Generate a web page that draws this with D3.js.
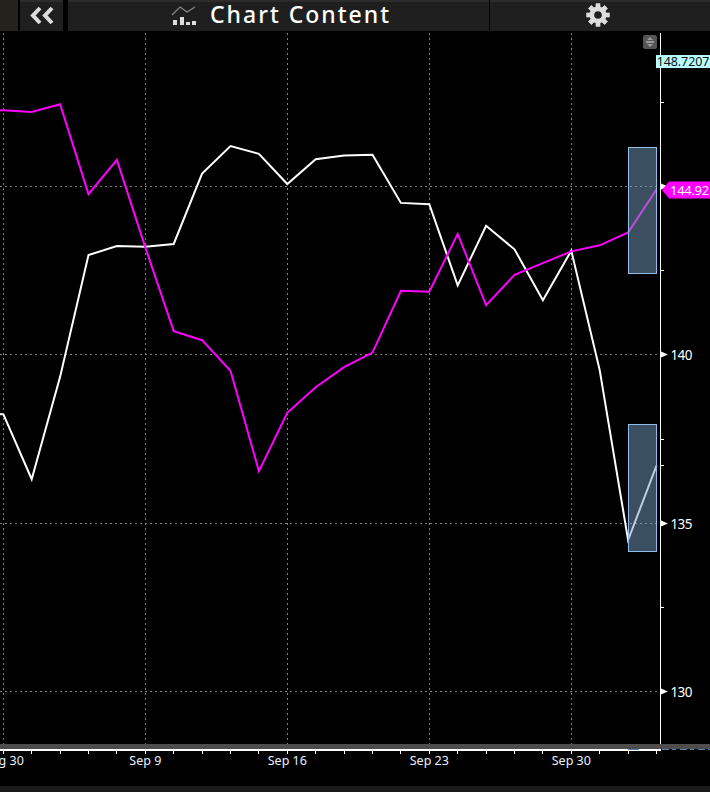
<!DOCTYPE html>
<html><head><meta charset="utf-8">
<style>html,body{margin:0;padding:0;background:#000;overflow:hidden}svg{display:block}text{font-family:"Noto Sans",sans-serif}</style>
<script src="https://cdn.jsdelivr.net/npm/d3@7/dist/d3.min.js"></script></head>
<body><script>
const dates = ["Aug 30","Sep 3","Sep 4","Sep 5","Sep 6","Sep 9","Sep 10","Sep 11","Sep 12","Sep 13","Sep 16","Sep 17","Sep 18","Sep 19","Sep 20","Sep 23","Sep 24","Sep 25","Sep 26","Sep 27","Sep 30","Oct 1","Oct 2","Oct 3"];
const magenta = [147.27,147.22,147.45,144.78,145.80,143.20,140.71,140.44,139.53,136.55,138.28,139.04,139.64,140.07,141.91,141.88,143.60,141.48,142.38,142.73,143.08,143.26,143.64,144.92];
const white = [138.24,136.31,139.35,142.97,143.24,143.22,143.30,145.39,146.21,145.98,145.08,145.82,145.93,145.95,144.52,144.48,142.07,143.84,143.14,141.63,143.10,139.55,134.50,136.71];
const xLabels = ["Aug 30","Sep 9","Sep 16","Sep 23","Sep 30"];
const yMajor = [130,135,140,145];
const yLabelled = [130,135,140];
const yMinor = [132.5,137.5,142.5,147.5];
const bands = [{from:"Oct 2",to:"Oct 3",hi:146.17,lo:142.42},{from:"Oct 2",to:"Oct 3",hi:137.93,lo:134.16}];
const lastMagenta = "144.92", topLabel = "148.7207", topValue = 148.7207, titleText = "Chart Content";

(function(){
const W=710,H=792,axisX=660,plotTop=33,plotBottom=745;
const svg=d3.select("body").append("svg").attr("width",W).attr("height",H);
const x=d3.scalePoint().domain(dates).range([3.3,656.5]);
const y=d3.scaleLinear().domain([128.41,149.569]).range([plotBottom,plotTop]);
const gy=d=>Math.floor(y(d))+.5;
const gx=d=>Math.floor(x(d))+.5;
svg.append("clipPath").attr("id","c").append("rect").attr("x",0).attr("y",plotTop).attr("width",axisX-1).attr("height",plotBottom-plotTop);

// grid
const grid=svg.append("g").attr("stroke","#808080").attr("stroke-width",1).attr("stroke-dasharray","2,3");
grid.selectAll("line.v").data(xLabels).join("line").attr("class","v").attr("x1",gx).attr("x2",gx).attr("y1",plotTop).attr("y2",plotBottom-1);
grid.selectAll("line.h").data(yMajor).join("line").attr("class","h").attr("x1",0).attr("x2",axisX).attr("y1",gy).attr("y2",gy);

// lines
const line=d3.line().x((d,i)=>x(dates[i])).y(d=>y(d));
const g=svg.append("g").attr("clip-path","url(#c)").attr("fill","none").attr("stroke-width",2).attr("stroke-linejoin","miter");
g.append("path").attr("d",line(white)).attr("stroke","#fff");
g.append("path").attr("d",line(magenta)).attr("stroke","#f0f");
// stub left of the first date
g.append("path").attr("d",d3.line()([[0,y(white[0])],[x(dates[0]),y(white[0])]])).attr("stroke","#fff");
g.append("path").attr("d",d3.line()([[0,y(magenta[0])],[x(dates[0]),y(magenta[0])]])).attr("stroke","#f0f");

// forecast bands
svg.append("g").selectAll("rect").data(bands).join("rect")
 .attr("x",d=>Math.floor(x(d.from))+.5).attr("width",d=>Math.round(x(d.to)-x(d.from)))
 .attr("y",d=>Math.floor(y(d.hi))+.5).attr("height",d=>Math.round(y(d.lo)-y(d.hi)))
 .attr("fill","rgb(120,158,194)").attr("fill-opacity",.5).attr("stroke","#8fbdea").attr("stroke-width",1);

// y axis
const yAxis=svg.append("g");
yAxis.append("line").attr("x1",axisX+.5).attr("x2",axisX+.5).attr("y1",plotTop).attr("y2",plotBottom+5).attr("stroke","#fff");
yAxis.selectAll("line.minor").data(yMinor).join("line").attr("class","minor").attr("x1",axisX).attr("x2",axisX+4).attr("y1",gy).attr("y2",gy).attr("stroke","#fff");
yAxis.selectAll("path.tri").data(yLabelled.concat([145])).join("path").attr("class","tri")
 .attr("d",d=>`M${axisX+1},${gy(d)-3}L${axisX+8},${gy(d)}L${axisX+1},${gy(d)+3}Z`).attr("fill","#fff");
yAxis.selectAll("text.yl").data(yLabelled).join("text").attr("class","yl").attr("x",axisX+10.5).attr("y",d=>gy(d)+.5).attr("dy","0.36em").attr("fill","#fff").attr("font-size",13.5).attr("letter-spacing",-.6).text(d=>d);
// end marks and labels
yAxis.append("line").attr("x1",axisX).attr("x2",axisX+4).attr("y1",gy(white[23])).attr("y2",gy(white[23])).attr("stroke","#fff");
const my=y(+lastMagenta)+.5;
yAxis.append("path").attr("d",`M662,${my}L669,${my-8.5}H710V${my+8.5}H669Z`).attr("fill","#f0f");
yAxis.append("text").attr("x",670).attr("y",my).attr("dy","0.36em").attr("fill","#fff").attr("font-size",13).attr("letter-spacing",-.3).text(lastMagenta);
const ty=y(topValue);
yAxis.append("rect").attr("x",656).attr("y",ty-6.5).attr("width",54).attr("height",13).attr("fill","#b8ffff");
yAxis.append("text").attr("x",683).attr("y",ty).attr("dy","0.36em").attr("text-anchor","middle").attr("fill","#111").attr("font-size",12.5).attr("letter-spacing",-.1).text(topLabel);

// scroll widget
const sw=svg.append("g");
sw.append("rect").attr("x",643).attr("y",35).attr("width",14).attr("height",14).attr("rx",2).attr("fill","#555");
sw.append("path").attr("d","M647,40L650,37L653,40ZM647,44L650,47L653,44Z").attr("fill","#999");
sw.append("path").attr("d","M646,41.5H654M646,42.5H654").attr("stroke","#999");

// bottom
svg.append("rect").attr("x",0).attr("y",744).attr("width",W).attr("height",5).attr("fill","#4d4d4d");
svg.append("line").attr("x1",0).attr("x2",661).attr("y1",750).attr("y2",750).attr("stroke","#fff").attr("stroke-width",2);
svg.append("line").attr("x1",628).attr("x2",639).attr("y1",749.5).attr("y2",749.5).attr("stroke","#5d7fa8").attr("stroke-width",1);
svg.append("line").attr("x1",662).attr("x2",710).attr("y1",749.5).attr("y2",749.5).attr("stroke","#5d7fa8").attr("stroke-width",1).attr("stroke-dasharray","7,3,4,4");
svg.append("g").selectAll("line").data(dates).join("line").attr("x1",gx).attr("x2",gx).attr("y1",750).attr("y2",754).attr("stroke","#fff");
svg.append("g").selectAll("text").data(xLabels).join("text").attr("x",d=>x(d)).attr("y",760).attr("dy","0.36em").attr("text-anchor","middle").attr("fill","#e8f2ff").attr("font-size",12.5).text(d=>d);
svg.append("rect").attr("x",0).attr("y",786).attr("width",W).attr("height",6).attr("fill","#1a1a1a");

// toolbar
const tb=svg.append("g");
tb.append("rect").attr("width",W).attr("height",31).attr("fill","#1f1f1f");
tb.append("rect").attr("y",0).attr("width",W).attr("height",2).attr("fill","#2c2c2c");
tb.append("rect").attr("x",0).attr("width",18).attr("height",31).attr("fill","#24221c");
[[18,2],[63,5],[489,1]].forEach(([a,b])=>tb.append("rect").attr("x",a).attr("width",b).attr("height",31).attr("fill","#000"));
tb.append("path").attr("d","M40,8L33,15.5L40,23M52,8L45,15.5L52,23").attr("fill","none").attr("stroke","#ddd").attr("stroke-width",4);
tb.append("path").attr("d","M172,15L180,7L187,12L195,7").attr("fill","none").attr("stroke","#888").attr("stroke-width",1.2);
[[175,20,5],[182,17,8],[188,22,3],[194,21,4]].forEach(([a,b,h])=>tb.append("rect").attr("x",a-2).attr("y",b).attr("width",4).attr("height",h).attr("fill","#ddd"));
tb.append("text").attr("x",210).attr("y",15).attr("dy","0.36em").attr("fill","#fff").attr("font-size",23).attr("font-weight",500).attr("letter-spacing",2).text(titleText);
const gear=tb.append("g").attr("transform","translate(598,15)");
d3.range(8).forEach(i=>gear.append("rect").attr("x",-2.2).attr("y",-11.5).attr("width",4.4).attr("height",23).attr("fill","#ddd").attr("transform",`rotate(${i*45})`));
gear.append("circle").attr("r",8.5).attr("fill","#ddd");
gear.append("circle").attr("r",3.8).attr("fill","#1f1f1f");
})();
</script></body></html>
